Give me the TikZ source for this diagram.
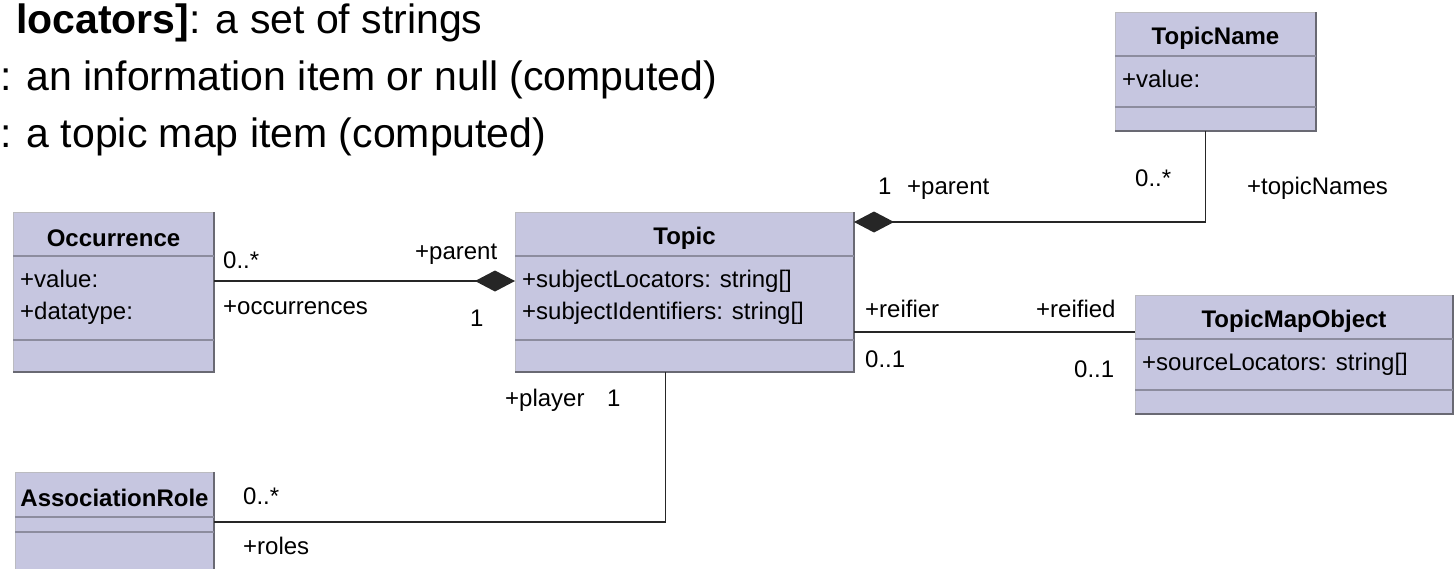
\documentclass[tikz,border=0pt]{standalone}
\usepackage{fontspec}
\setmainfont{Liberation Sans}
\usetikzlibrary{arrows.meta}

\definecolor{boxfill}{RGB}{198,198,224}
\definecolor{boxdark}{RGB}{105,105,115}
\definecolor{sepgray}{RGB}{140,140,158}
\newcommand{\umlfont}{\fontsize{24}{24}\selectfont}
\newcommand{\bigfont}{\fontsize{41}{41}\selectfont}

\begin{document}
\begin{tikzpicture}[
    x=1pt, y=-1pt,
    classbox/.style={draw=boxdark!45, line width=1pt, fill=boxfill, anchor=north west, inner sep=0pt},
    bevel/.style={draw=boxdark, line width=2.5pt},
    sep/.style={draw=sepgray, line width=1.2pt},
    title/.style={font=\umlfont\bfseries, inner sep=0pt},
    attr/.style={font=\umlfont, anchor=west, inner sep=0pt, text height=17pt, text depth=5pt},
    lbl/.style={font=\umlfont, anchor=west, inner sep=0pt, text height=17pt, text depth=5pt},
    bigtext/.style={font=\bigfont, anchor=base west, inner sep=0pt},
    assoc/.style={draw=black!85, line width=1.5pt},
    comp/.style={assoc, -{Diamond[length=40pt, width=21pt]}}
]
\useasboundingbox (0,0) rectangle (1456,568);
\clip (0,0) rectangle (1456,568);

% testo in alto
\node[bigtext] (txt1) at (16,33) {\textbf{locators]}: a set of strings};
\node[bigtext] (txt2) at (0,90) {: an information item or null (computed)};
\node[bigtext] (txt3) at (0,147) {: a topic map item (computed)};

% classi
\node[classbox, minimum width=200pt, minimum height=159pt] (occ) at (13,212) {};
\node[classbox, minimum width=338pt, minimum height=159pt] (topic) at (515,212) {};
\node[classbox, minimum width=200pt, minimum height=118pt] (tname) at (1115,12) {};
\node[classbox, minimum width=317pt, minimum height=118pt] (tmo) at (1135,295) {};
\node[classbox, minimum width=198pt, minimum height=130pt] (arole) at (15,472) {};

\draw[bevel] (occ.north east) |- (occ.south west);
\draw[bevel] (topic.north east) |- (topic.south west);
\draw[bevel] (tname.north east) |- (tname.south west);
\draw[bevel] (tmo.north east) |- (tmo.south west);
\draw[bevel] (arole.north east) |- (arole.south west);

\draw[sep] ([yshift=-44pt]occ.north west) -- ([yshift=-44pt]occ.north east);
\draw[sep] ([yshift=-128pt]occ.north west) -- ([yshift=-128pt]occ.north east);
\draw[sep] ([yshift=-44pt]topic.north west) -- ([yshift=-44pt]topic.north east);
\draw[sep] ([yshift=-128pt]topic.north west) -- ([yshift=-128pt]topic.north east);
\draw[sep] ([yshift=-44pt]tname.north west) -- ([yshift=-44pt]tname.north east);
\draw[sep] ([yshift=-95pt]tname.north west) -- ([yshift=-95pt]tname.north east);
\draw[sep] ([yshift=-44pt]tmo.north west) -- ([yshift=-44pt]tmo.north east);
\draw[sep] ([yshift=-95pt]tmo.north west) -- ([yshift=-95pt]tmo.north east);
\draw[sep] ([yshift=-45pt]arole.north west) -- ([yshift=-45pt]arole.north east);
\draw[sep] ([yshift=-60pt]arole.north west) -- ([yshift=-60pt]arole.north east);

% nomi e attributi
\node[title] (occ-t) at ([yshift=-26pt]occ.north) {Occurrence};
\node[attr] (occ-a1) at ([xshift=7pt, yshift=-69pt]occ.north west) {+value:};
\node[attr] (occ-a2) at ([xshift=7pt, yshift=-101pt]occ.north west) {+datatype:};

\node[title] (topic-t) at ([yshift=-26pt]topic.north) {Topic};
\node[attr] (topic-a1) at ([xshift=7pt, yshift=-69pt]topic.north west) {+subjectLocators: string[]};
\node[attr] (topic-a2) at ([xshift=7pt, yshift=-101pt]topic.north west) {+subjectIdentifiers: string[]};

\node[title] (tname-t) at ([yshift=-26pt]tname.north) {TopicName};
\node[attr] (tname-a1) at ([xshift=7pt, yshift=-69pt]tname.north west) {+value:};

\node[title] (tmo-t) at ([yshift=-26pt]tmo.north) {TopicMapObject};
\node[attr] (tmo-a1) at ([xshift=7pt, yshift=-69pt]tmo.north west) {+sourceLocators: string[]};

\node[title] (arole-t) at ([yshift=-26pt]arole.north) {AssociationRole};

% associazioni
\draw[comp] ([yshift=-69pt]occ.north east) -- ([yshift=-69pt]topic.north west);
\draw[comp] ([xshift=-10pt]tname.south) |- ([yshift=-10pt]topic.north east);
\draw[assoc] ([yshift=-120pt]topic.north east) -- ([yshift=-37pt]tmo.north west);
\draw[assoc] ([xshift=-19pt]topic.south) |- ([yshift=-50pt]arole.north east);

% ruoli e molteplicita
\node[lbl] (m1) at (223,262) {0..*};
\node[lbl] (r1) at (415,253) {+parent};
\node[lbl] (r2) at (223,308) {+occurrences};
\node[lbl] (m2) at (470,320) {1};
\node[lbl] (m3) at (878,188) {1};
\node[lbl] (r3) at (907,188) {+parent};
\node[lbl] (m4) at (1135,180) {0..*};
\node[lbl] (r4) at (1247,188) {+topicNames};
\node[lbl] (r5) at (865,311) {+reifier};
\node[lbl] (r6) at (1036,311) {+reified};
\node[lbl] (m5) at (865,361) {0..1};
\node[lbl] (m6) at (1074,371) {0..1};
\node[lbl] (r7) at (505,400) {+player};
\node[lbl] (m7) at (607,400) {1};
\node[lbl] (m8) at (243,498) {0..*};
\node[lbl] (r8) at (243,548) {+roles};
\end{tikzpicture}
\end{document}
